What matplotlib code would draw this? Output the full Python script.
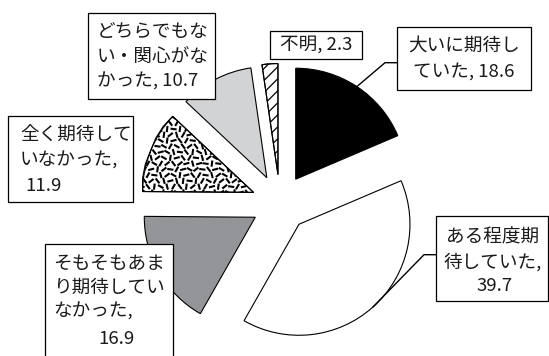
import numpy as np
import matplotlib
matplotlib.use("Agg")
import matplotlib.pyplot as plt
from matplotlib.patches import Rectangle
from matplotlib.collections import LineCollection

plt.rcParams['font.family'] = ['Noto Sans CJK JP', 'DejaVu Sans']

# ---- data ----
categories = ["大いに期待していた", "ある程度期待していた",
              "そもそもあまり期待していなかった", "全く期待していなかった",
              "どちらでもない・関心がなかった", "不明"]
values = [18.6, 39.7, 16.9, 11.9, 10.7, 2.3]

# ---- style / layout ----
W, H = 549, 356
colors = ['#000000', '#ffffff', '#939598', '#ffffff', '#d1d3d4', '#ffffff']
CX, CY = 280, H - 203
R = 111
EXPLODE = 28.5
FS = 13.4

fig = plt.figure(figsize=(W / 100, H / 100), dpi=100)
ax = fig.add_axes([0, 0, 1, 1])

wedges, _ = ax.pie(values, colors=colors, startangle=90, counterclock=False,
                   radius=R, center=(CX, CY), explode=[EXPLODE] * len(values),
                   wedgeprops=dict(edgecolor='black', linewidth=0.8))
ax.set_xlim(0, W)
ax.set_ylim(0, H)
ax.set_aspect('equal')
ax.axis('off')
for w in wedges:
    w.set_zorder(2)

# dash texture for "全く期待していなかった"
wp = wedges[3]
cx3, cy3 = wp.center
segs = []
step = 6.4
L = 3.1
ii = np.arange(-22, 23)
for i in ii:
    for j in ii:
        px = cx3 + i * step + (j % 2) * step / 2
        py = cy3 + j * step * 0.9
        ang = np.deg2rad(((i * 5 + j * 7 + (i * j) % 3) % 8) * 22.5 + 60)
        dx, dy = L * np.cos(ang), L * np.sin(ang)
        segs.append([(px - dx, py - dy), (px + dx, py + dy)])
lc = LineCollection(segs, colors='black', linewidths=1.5, zorder=2.5)
ax.add_collection(lc)
lc.set_clip_path(wp)

# diagonal hatch for "不明"
wh = wedges[5]
cx5, cy5 = wh.center
hsegs = []
for k in np.arange(-20, 21):
    c = k * 12.0
    hsegs.append([(cx5 - 150, cy5 - 150 + c), (cx5 + 150, cy5 + 150 + c)])
hl = LineCollection(hsegs, colors='black', linewidths=0.9, zorder=2.5)
ax.add_collection(hl)
hl.set_clip_path(wh)

# outlines above textures
for w in (wp, wh):
    ax.add_patch(plt.Polygon(w.get_path().vertices, closed=True, fill=False,
                             edgecolor='black', linewidth=0.8, zorder=3,
                             transform=w.get_transform()))


def wrap(s, breaks):
    starts = [0] + breaks
    ends = breaks + [None]
    return [s[a:b].strip() for a, b in zip(starts, ends)]


labels = [f"{c}, {v}" for c, v in zip(categories, values)]
breaks = [[6], [5, 11], [6, 12, 17], [6, 12], [6, 12], []]

# box (x0, y0, x1, y1) in image px (y down); line anchors (x, y, ha)
boxes = [(397, 27, 531, 90), (436, 216, 548, 301), (45, 244, 173, 362),
         (8, 116, 133, 202), (88, 13, 215, 99), (270, 31, 362, 59)]
anchors = [
    [(464, 47, 'center'), (464, 72, 'center')],
    [(493, 237, 'center'), (493, 262, 'center'), (495, 286, 'center')],
    [(53, 264, 'left'), (53, 288, 'left'), (53, 312, 'left'), (98, 339, 'left')],
    [(20, 136, 'left'), (20, 161, 'left'), (25, 186, 'left')],
    [(97, 33, 'left'), (97, 57, 'left'), (97, 82, 'left')],
    [(316, 45, 'center')],
]

for lab, br, box, anc in zip(labels, breaks, boxes, anchors):
    x0, y0, x1, y1 = box
    ax.add_patch(Rectangle((x0, H - y1), x1 - x0, y1 - y0, facecolor='white',
                           edgecolor='black', linewidth=0.9, zorder=5))
    for line, (tx, ty, ha) in zip(wrap(lab, br), anc):
        ax.text(tx, H - ty, line, ha=ha, va='center', fontsize=FS,
                color='#1a1a1a', zorder=6)

# leader lines to arc midpoints
for idx, bx, by in [(0, 397, 62.7), (1, 436, 254.7)]:
    w = wedges[idx]
    tm = np.deg2rad((w.theta1 + w.theta2) / 2)
    ex = w.center[0] + w.r * np.cos(tm)
    ey = w.center[1] + w.r * np.sin(tm)
    ax.plot([bx, bx - 12, ex], [H - by, H - by, ey], color='black',
            linewidth=1.0, zorder=4)

fig.savefig('out.png', dpi=100)
